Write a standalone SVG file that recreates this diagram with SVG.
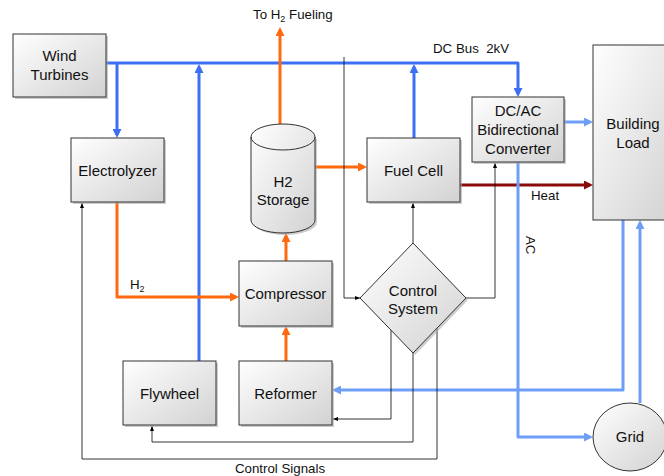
<svg xmlns="http://www.w3.org/2000/svg" width="664" height="476" viewBox="0 0 664 476">
<defs>
<linearGradient id="g" x1="0" y1="0" x2="1" y2="1">
<stop offset="0" stop-color="#ffffff"/>
<stop offset="1" stop-color="#d2d2d2"/>
</linearGradient>
<marker id="aB" viewBox="0 0 9 9" markerWidth="9" markerHeight="9" refX="6" refY="4.5" orient="auto" markerUnits="userSpaceOnUse"><path d="M0,0 L9,4.5 L0,9 z" fill="#3d6ff5"/></marker>
<marker id="aL" viewBox="0 0 9 9" markerWidth="9" markerHeight="9" refX="6" refY="4.5" orient="auto" markerUnits="userSpaceOnUse"><path d="M0,0 L9,4.5 L0,9 z" fill="#6f9ef7"/></marker>
<marker id="aO" viewBox="0 0 9 9" markerWidth="9" markerHeight="9" refX="6" refY="4.5" orient="auto" markerUnits="userSpaceOnUse"><path d="M0,0 L9,4.5 L0,9 z" fill="#ff6a10"/></marker>
<marker id="aR" viewBox="0 0 9 9" markerWidth="9" markerHeight="9" refX="6" refY="4.5" orient="auto" markerUnits="userSpaceOnUse"><path d="M0,0 L9,4.5 L0,9 z" fill="#8b0a0a"/></marker>
<marker id="aK" viewBox="0 0 5 4" markerWidth="5" markerHeight="4" refX="5" refY="2" orient="auto" markerUnits="userSpaceOnUse"><path d="M0,0 L5,2 L0,4 z" fill="#000"/></marker>
</defs>
<style>
.box{fill:url(#g);stroke:#333;stroke-width:1}
.sh{fill:#aaa;opacity:0.6}
.t{font-family:"Liberation Sans",Arial,sans-serif;font-size:15px;fill:#111;text-anchor:middle}
.s{font-family:"Liberation Sans",Arial,sans-serif;font-size:13.3px;fill:#111}
.c{fill:none;stroke-linejoin:round}
.blue{stroke:#3d6ff5;stroke-width:3}
.lb{stroke:#6f9ef7;stroke-width:3}
.or{stroke:#ff6a10;stroke-width:3}
.dr{stroke:#8b0a0a;stroke-width:3}
.k{stroke:#000;stroke-width:0.8}
</style>

<g id="connectors">
<path class="c blue" d="M106,63 H518 V94" marker-end="url(#aB)"/>
<path class="c blue" d="M117,63 V135" marker-end="url(#aB)"/>
<path class="c blue" d="M199,361 V67" marker-end="url(#aB)"/>
<path class="c blue" d="M414,138 V67" marker-end="url(#aB)"/>
<path class="c or" d="M280,124 V30" marker-end="url(#aO)"/>
<path class="c or" d="M314,167 H364" marker-end="url(#aO)"/>
<path class="c or" d="M117,202 V297 H236" marker-end="url(#aO)"/>
<path class="c or" d="M286,261 V236" marker-end="url(#aO)"/>
<path class="c or" d="M286,361 V329" marker-end="url(#aO)"/>
<path class="c lb" d="M564,122 H590" marker-end="url(#aL)"/>
<path class="c dr" d="M460,185 H590" marker-end="url(#aR)"/>
<path class="c lb" d="M518,162 V437 H590" marker-end="url(#aL)"/>
<path class="c lb" d="M623,220 V390 H335" marker-end="url(#aL)"/>
<path class="c lb" d="M640,403 V223" marker-end="url(#aL)"/>
<path class="c k" d="M344,57 V298 H360" marker-end="url(#aK)"/>
<path class="c k" d="M413,243 V203" marker-end="url(#aK)"/>
<path class="c k" d="M466,298 H495 V163" marker-end="url(#aK)"/>
<path class="c k" d="M391,330 V419 H333" marker-end="url(#aK)"/>
<path class="c k" d="M413,353 V442 H152 V426" marker-end="url(#aK)"/>
<path class="c k" d="M437,328 V459 H82 V203" marker-end="url(#aK)"/>
</g>

<g id="wind">
<rect class="sh" x="15" y="36" width="93" height="63"/>
<rect class="box" x="13" y="34" width="93" height="63"/>
<text class="t" x="59.5" y="61">Wind</text>
<text class="t" x="59.5" y="80">Turbines</text>
</g>
<g id="electrolyzer">
<rect class="sh" x="73" y="140" width="93" height="64"/>
<rect class="box" x="71" y="138" width="93" height="64"/>
<text class="t" x="117.5" y="176">Electrolyzer</text>
</g>
<g id="storage">
<path class="sh" d="M253,139 V222 A32,13 0 0 0 317,222 V139 z"/>
<path class="box" d="M251,137 V220 A32,13 0 0 0 315,220 V137 A32,13 0 0 0 251,137 z"/>
<path d="M251,137 A32,13 0 0 0 315,137" fill="none" stroke="#333" stroke-width="1"/>
<text class="t" x="283" y="187">H2</text>
<text class="t" x="283" y="205">Storage</text>
</g>
<g id="fuelcell">
<rect class="sh" x="369" y="140" width="93" height="64"/>
<rect class="box" x="367" y="138" width="93" height="64"/>
<text class="t" x="413.5" y="176">Fuel Cell</text>
</g>
<g id="converter">
<rect class="sh" x="474" y="99" width="92" height="65"/>
<rect class="box" x="472" y="97" width="92" height="65"/>
<text class="t" x="518" y="116">DC/AC</text>
<text class="t" x="518" y="135">Bidirectional</text>
<text class="t" x="518" y="154">Converter</text>
</g>
<g id="building">
<rect class="box" x="593" y="45" width="80" height="175"/>
<text class="t" x="633" y="129">Building</text>
<text class="t" x="633" y="148">Load</text>
</g>
<g id="compressor">
<rect class="sh" x="241" y="263" width="93" height="65"/>
<rect class="box" x="239" y="261" width="93" height="65"/>
<text class="t" x="285.5" y="299">Compressor</text>
</g>
<g id="flywheel">
<rect class="sh" x="125" y="363" width="93" height="64"/>
<rect class="box" x="123" y="361" width="93" height="64"/>
<text class="t" x="169.5" y="399">Flywheel</text>
</g>
<g id="reformer">
<rect class="sh" x="241" y="363" width="93" height="64"/>
<rect class="box" x="239" y="361" width="93" height="64"/>
<text class="t" x="285.5" y="399">Reformer</text>
</g>
<g id="control">
<polygon class="sh" points="415,245 468,300 415,355 362,300"/>
<polygon class="box" points="413,243 466,298 413,353 360,298"/>
<text class="t" x="413" y="296">Control</text>
<text class="t" x="413" y="314">System</text>
</g>
<g id="grid">
<ellipse class="box" cx="630" cy="437" rx="37" ry="34"/>
<text class="t" x="630" y="442">Grid</text>
</g>

<g id="labels">
<text class="s" x="253" y="19">To H<tspan font-size="9" dy="3">2</tspan><tspan dy="-3"> Fueling</tspan></text>
<text class="s" x="433" y="53">DC Bus&#160; 2kV</text>
<text class="s" x="130" y="289">H<tspan font-size="9" dy="3">2</tspan></text>
<text class="s" x="531" y="200">Heat</text>
<text class="s" transform="translate(526,236) rotate(90)">AC</text>
<text class="s" x="280" y="473" text-anchor="middle">Control Signals</text>
</g>
</svg>
